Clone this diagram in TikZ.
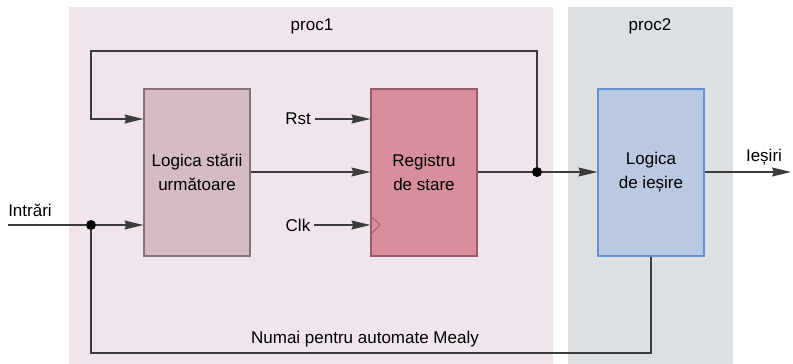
\documentclass[tikz,border=0pt]{standalone}
\usepackage{fontspec}
\setmainfont{Liberation Sans}
\usetikzlibrary{arrows.meta,positioning}

\definecolor{bgone}{RGB}{240,229,237}
\definecolor{bgtwo}{RGB}{220,224,226}
\definecolor{nextfill}{RGB}{212,188,194}
\definecolor{nextline}{RGB}{138,112,120}
\definecolor{regfill}{RGB}{216,142,156}
\definecolor{regline}{RGB}{150,92,106}
\definecolor{outfill}{RGB}{185,201,225}
\definecolor{outline}{RGB}{98,146,208}
\definecolor{wire}{RGB}{60,60,60}

\tikzset{
  blk/.style={draw, line width=1.2pt, minimum width=106pt, minimum height=167pt,
    inner sep=0pt, align=center, font=\fontsize{17}{24}\selectfont},
  lbl/.style={font=\fontsize{17}{20}\selectfont, inner sep=1pt},
  wireline/.style={draw=wire, line width=1.2pt},
  sig/.style={wireline, -{Stealth[length=19pt,width=9pt,inset=2pt]}},
  junc/.style={circle, fill=black, inner sep=0pt, minimum size=10pt}
}

\begin{document}
\begin{tikzpicture}[x=1pt,y=-1pt]
  \useasboundingbox (0,0) rectangle (793,364);
  % process areas
  \fill[bgone] (69,7) rectangle (553,364);
  \fill[bgtwo] (568,7) rectangle (733,364);
  \node[lbl] (p1) at (312,26) {proc1};
  \node[lbl] (p2) at (650,26) {proc2};

  % blocks
  \node[blk, fill=nextfill, draw=nextline] (next) at (197,172.5) {Logica stării\\următoare};
  \node[blk, fill=regfill, draw=regline] (reg) at (424,172.5) {Registru\\de stare};
  \node[blk, fill=outfill, draw=outline] (out) at (651,172.5) {Logica\\de ieșire};

  % labels
  \node[lbl] (rst) at (298,119) {Rst};
  \node[lbl] (clk) at (298,225) {Clk};
  \node[lbl] (in) at (30,210) {Intrări};
  \node[lbl] (iesiri) at (764,157) {Ieșiri};
  \node[lbl] (mealy) at (365,339) {Numai pentru automate Mealy};

  % junctions and corners
  \node[junc] (jst) at (537,172) {};
  \node[junc] (jin) at (91,225) {};
  \coordinate (instart) at (8,225);
  \coordinate (outend) at (791,172);
  \coordinate (tr) at (537,51);
  \coordinate (tl) at (91,51);
  \coordinate (fl) at (91,119);
  \coordinate (br) at (651,353);
  \coordinate (bl) at (91,353);

  % clock mark
  \draw[regline, line width=1pt] (371,216) -- (380,225) -- (371,234);

  \begin{scope}
    \draw[sig] (rst.east) ++(3,0) -- (reg.west |- rst);
    \draw[sig] (clk.east) ++(3,0) -- (reg.west |- clk);
    \draw[sig] (next.east |- jst) -- (reg.west |- jst);
    \draw[wireline] (reg.east |- jst) -- (jst);
    \draw[sig] (jst) -- (out.west |- jst);
    \draw[sig] (out.east |- jst) -- (outend);
    \draw[sig] (jst) -- (tr) -- (tl) -- (fl) -- (next.west |- fl);
    \draw[wireline] (instart) -- (jin);
    \draw[sig] (jin) -- (next.west |- jin);
    \draw[wireline] (out.south) -- (br) -- (bl) -- (jin);
  \end{scope}
\end{tikzpicture}
\end{document}
